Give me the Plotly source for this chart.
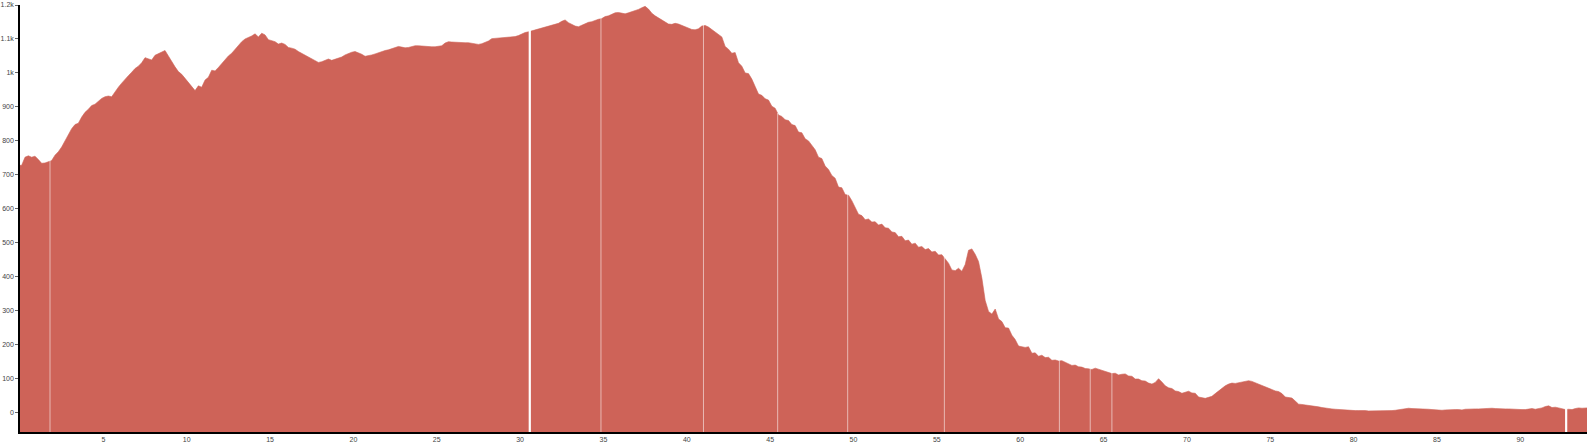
import plotly.graph_objects as go

# Bin centres: 0.1, 0.3, ..., 93.9 (bin width 0.2)
bin_width = 0.2
values = [
    728, 752, 756, 752, 755, 745, 734, 735, 738, 742,
    758, 768, 782, 800, 820, 836, 848, 852, 870, 884,
    893, 904, 908, 918, 925, 930, 932, 930, 946, 958,
    970, 982, 992, 1002, 1013, 1020, 1030, 1045, 1042, 1038,
    1052, 1056, 1062, 1066, 1050, 1032, 1018, 1004, 996, 984,
    971, 958, 948, 962, 958, 979, 987, 1008, 1006, 1016,
    1028, 1038, 1050, 1058, 1070, 1082, 1092, 1100, 1104, 1109,
    1115, 1106, 1117, 1112, 1098, 1096, 1092, 1085, 1088, 1084,
    1075, 1073, 1070, 1063, 1058, 1053, 1048, 1042, 1036, 1031,
    1033, 1038, 1041, 1037, 1040, 1042, 1047, 1053, 1058, 1061,
    1063, 1060, 1055, 1049, 1050, 1053, 1056, 1060, 1063, 1066,
    1068, 1071, 1076, 1078, 1076, 1074, 1075, 1078, 1080, 1080,
    1079, 1077, 1078, 1077, 1077, 1079, 1080, 1088, 1092, 1091,
    1090, 1089, 1090, 1089, 1089, 1088, 1086, 1084, 1086, 1089,
    1094, 1101, 1102, 1101, 1103, 1104, 1105, 1106, 1107, 1110,
    1115, 1119, 1121, 1124, 1126, 1128, 1132, 1135, 1138, 1140,
    1143, 1146, 1152, 1156, 1148, 1142, 1138, 1136, 1141, 1146,
    1149, 1151, 1155, 1158, 1160, 1166, 1168, 1172, 1177, 1178,
    1175, 1174, 1177, 1180, 1183, 1187, 1192, 1196, 1188, 1176,
    1168, 1162, 1154, 1150, 1144, 1143, 1146, 1144, 1140, 1137,
    1134, 1128, 1127, 1130, 1138, 1140, 1135, 1128, 1122, 1114,
    1106, 1078, 1070, 1058, 1060, 1030, 1020, 1000, 998, 982,
    962, 938, 934, 924, 920, 902, 896, 876, 872, 862,
    860, 848, 845, 826, 824, 806, 800, 786, 774, 752,
    748, 726, 716, 698, 690, 664, 662, 642, 640, 624,
    606, 584, 580, 568, 570, 561, 562, 552, 555, 544,
    543, 532, 530, 518, 519, 506, 508, 496, 499, 487,
    489, 480, 483, 473, 475, 464, 465, 452, 440, 420,
    418, 425, 416, 436, 478, 482, 466, 445, 396, 330,
    298, 290, 305, 276, 268, 250, 249, 228, 215, 196,
    195, 192, 194, 175, 176, 166, 169, 162, 163, 154,
    155, 152, 153, 148, 145, 139, 140, 135, 134, 130,
    129, 127, 131, 128, 126, 121, 119, 115, 116, 111,
    113, 114, 108, 107, 99, 99, 94, 93, 87, 84,
    89, 100, 90, 79, 73, 71, 64, 62, 57, 60,
    63, 58, 57, 46, 44, 42, 45, 48, 56, 64,
    72, 79, 84, 87, 86, 88, 92, 94, 94, 92,
    88, 84, 80, 76, 71, 66, 64, 62, 56, 46,
    44, 43, 34, 25, 24, 23, 22, 20, 18, 17,
    15, 13, 12, 11, 10, 9, 8, 7, 8, 7,
    6, 6, 7, 6, 5, 5, 4, 4, 5, 5,
    5, 6, 7, 9, 11, 12, 13, 12, 12, 11,
    11, 11, 10, 9, 8, 8, 7, 8, 9, 10,
    9, 9, 8, 10, 11, 10, 11, 11, 12, 11,
    12, 13, 12, 11, 12, 11, 11, 10, 10, 10,
    9, 9, 10, 12, 10, 11, 14, 18, 20, 15,
    16, 14, 12, 9, 10, 9, 12, 14, 13, 14,
]
bin_centers = [round(bin_width * i + bin_width / 2, 2) for i in range(len(values))]

# Positions with missing data (narrow gaps) and wider missing stretches
thin_gaps = [1.8, 34.85, 41.0, 45.45, 49.65, 55.45, 62.35, 64.2, 65.5]
wide_gaps = [30.58, 92.75]

y_ticks = [0, 100, 200, 300, 400, 500, 600, 700, 800, 900, 1000, 1100, 1200]
y_tick_text = ["0", "100", "200", "300", "400", "500", "600", "700", "800", "900", "1k", "1.1k", "1.2k"]
x_ticks = [5, 10, 15, 20, 25, 30, 35, 40, 45, 50, 55, 60, 65, 70, 75, 80, 85, 90]

Y_MIN, Y_MAX = -57, 1200
X_MIN, X_MAX = 0, 94
FILL = "rgb(206,99,88)"


def value_at(x):
    i = min(int(x / bin_width), len(values) - 1)
    return values[i]


# outline from the left edge of the first bin to the right edge of the last bin
xs = [bin_centers[0] - bin_width / 2] + bin_centers + [bin_centers[-1] + bin_width / 2]
ys = [values[0]] + values + [values[-1]]

fig = go.Figure()
fig.add_trace(go.Scatter(
    x=xs, y=[Y_MIN] * len(xs), mode="lines",
    line=dict(width=0), hoverinfo="skip",
))
fig.add_trace(go.Scatter(
    x=xs, y=ys, mode="lines", fill="tonexty",
    fillcolor=FILL, line=dict(color=FILL, width=0.6),
    hovertemplate="%{x}: %{y}<extra></extra>",
))


def gap_lines(gaps, pad):
    gx, gy = [], []
    for g in gaps:
        gx += [g, g, None]
        gy += [Y_MIN, value_at(g) + pad, None]
    return gx, gy


tx, ty = gap_lines(thin_gaps, 6)
fig.add_trace(go.Scatter(
    x=tx, y=ty, mode="lines",
    line=dict(color="rgba(255,255,255,0.55)", width=1), hoverinfo="skip",
))
wx, wy = gap_lines(wide_gaps, 12)
fig.add_trace(go.Scatter(
    x=wx, y=wy, mode="lines",
    line=dict(color="white", width=2.2), hoverinfo="skip",
))

fig.update_layout(
    width=1589, height=444,
    margin=dict(l=20, r=2, t=5, b=12, autoexpand=False),
    paper_bgcolor="white", plot_bgcolor="white",
    showlegend=False,
    font=dict(family="Liberation Sans, Arial, sans-serif", size=7, color="#444"),
)
fig.update_xaxes(
    range=[X_MIN, X_MAX], tickvals=x_ticks, showgrid=False, zeroline=False,
    showline=True, linecolor="black", linewidth=1.5, ticks="", ticklen=0,
    automargin=False, ticklabelstandoff=0,
)
fig.update_yaxes(
    range=[Y_MIN, Y_MAX], tickvals=y_ticks, ticktext=y_tick_text, showgrid=False,
    zeroline=False, showline=True, linecolor="black", linewidth=1.5,
    ticks="outside", ticklen=3, tickcolor="#666", tickwidth=1,
    automargin=False, ticklabelstandoff=0,
)

fig.write_html(
    "out.html",
    config={"displayModeBar": False},
    post_script="document.body.style.margin='0';document.body.style.overflow='hidden';",
)
